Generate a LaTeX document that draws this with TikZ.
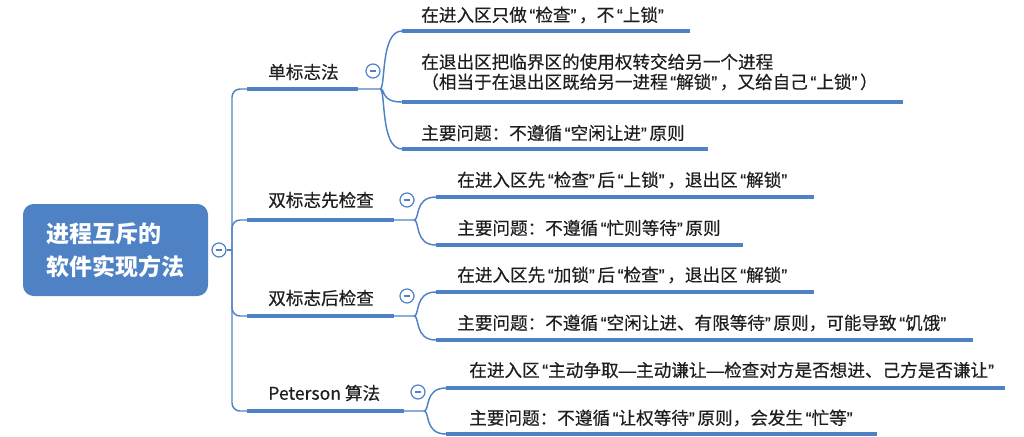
\documentclass[tikz,border=0pt]{standalone}
\usepackage{fontspec}
\setmainfont{Noto Sans CJK SC}
\newfontfamily\leaffont[FakeBold=0.4]{Noto Sans CJK SC}
\newfontfamily\quotefont[FakeBold=0.4]{Liberation Sans}
\newcommand\qo{\kern0.15em{\quotefont“}}
\newcommand\qc{{\quotefont”}\kern0.15em}
\newcommand\dsh{{\quotefont—}}
\definecolor{mapblue}{RGB}{79,130,197}
\definecolor{leafgray}{RGB}{30,30,30}
\begin{document}
\begin{tikzpicture}[x=0.75pt,y=-0.75pt,
    link/.style={draw=mapblue,line width=1.1pt},
    bar/.style={draw=mapblue,line width=2.6pt},
    fold/.style={circle,draw=mapblue,fill=white,line width=0.9pt,minimum size=10.5pt,inner sep=0pt,
      path picture={\draw[mapblue,line width=0.9pt] ([xshift=-2.6pt]path picture bounding box.center)--([xshift=2.6pt]path picture bounding box.center);}},
    txt/.style={anchor=west,inner sep=0pt,text=leafgray,align=left,font=\fontsize{13.2}{15}\leaffont},
    curl/.style={to path={.. controls +(6,0) and +(-22,0) .. (\tikztotarget)}}]
    \useasboundingbox (0,0) rectangle (1024,436);
    % root
    \node[fill=mapblue,rounded corners=8pt,minimum width=138.75pt,minimum height=69pt,text=white,align=left,
      font=\fontsize{17.25}{24.75}\selectfont\bfseries] (root) at (115.5,250) {进程互斥的\\软件实现方法};
    \node[fold] (rc) at (219,250) {};
    \coordinate (t) at (232,250);
    \draw[link] (rc) -- (t);

    % branches
    \coordinate (b1s) at (247,89);  \coordinate (b1e) at (358,89);  \coordinate (b1j) at (380,89);
    \coordinate (b2s) at (247,220); \coordinate (b2e) at (394,220); \coordinate (b2j) at (414,220);
    \coordinate (b3s) at (247,316); \coordinate (b3e) at (394,316); \coordinate (b3j) at (414,316);
    \coordinate (b4s) at (247,411); \coordinate (b4e) at (404,411); \coordinate (b4j) at (424,411);
    \draw[link,rounded corners=6pt] (t) |- (b1s) -- (b1j);
    \draw[link,rounded corners=6pt] (t) |- (b2s) -- (b2j);
    \draw[link,rounded corners=6pt] (t) |- (b3s) -- (b3j);
    \draw[link,rounded corners=6pt] (t) |- (b4s) -- (b4j);
    \node[txt] (b1) at (268,72) {单标志法};
    \node[txt] (b2) at (268,200) {双标志先检查};
    \node[txt] (b3) at (268,298) {双标志后检查};
    \node[txt] (b4) at (268,393) {Peterson 算法};
    \node[fold] (b1c) at (373,71) {};
    \node[fold] (b2c) at (407,200) {};
    \node[fold] (b3c) at (407,296) {};
    \node[fold] (b4c) at (418,392) {};

    % leaves
    \coordinate (l11s) at (402,31);  \coordinate (l11e) at (690,31);
    \coordinate (l12s) at (402,102); \coordinate (l12e) at (903,102);
    \coordinate (l13s) at (402,149); \coordinate (l13e) at (708,149);
    \coordinate (l21s) at (436,197); \coordinate (l21e) at (814,197);
    \coordinate (l22s) at (436,245); \coordinate (l22e) at (743,245);
    \coordinate (l31s) at (436,292); \coordinate (l31e) at (814,292);
    \coordinate (l32s) at (436,340); \coordinate (l32e) at (973,340);
    \coordinate (l41s) at (446,388); \coordinate (l41e) at (1005,388);
    \coordinate (l42s) at (446,434); \coordinate (l42e) at (877,434);
    \draw[link] (b1j) to[curl] (l11s) (b1j) to[curl] (l12s) (b1j) to[curl] (l13s);
    \draw[link] (b2j) to[curl] (l21s) (b2j) to[curl] (l22s);
    \draw[link] (b3j) to[curl] (l31s) (b3j) to[curl] (l32s);
    \draw[link] (b4j) to[curl] (l41s) (b4j) to[curl] (l42s);
    \draw[bar] (b1s) -- (b1e) (b2s) -- (b2e) (b3s) -- (b3e) (b4s) -- (b4e);
    \draw[bar] (l11s) -- (l11e) (l12s) -- (l12e) (l13s) -- (l13e);
    \draw[bar] (l21s) -- (l21e) (l22s) -- (l22e) (l31s) -- (l31e) (l32s) -- (l32e);
    \draw[bar] (l41s) -- (l41e) (l42s) -- (l42e);
    \node[txt] (l11) at (421,15) {在进入区只做\qo 检查\qc，不\qo 上锁\qc};
    \node[txt] (l12) at (421,72) {在退出区把临界区的使用权转交给另一个进程\\（相当于在退出区既给另一进程\qo 解锁\qc，又给自己\qo 上锁\qc）};
    \node[txt] (l13) at (421,133) {主要问题：不遵循\qo 空闲让进\qc 原则};
    \node[txt] (l21) at (457,180) {在进入区先\qo 检查\qc 后\qo 上锁\qc，退出区\qo 解锁\qc};
    \node[txt] (l22) at (457,228) {主要问题：不遵循\qo 忙则等待\qc 原则};
    \node[txt] (l31) at (457,275) {在进入区先\qo 加锁\qc 后\qo 检查\qc，退出区\qo 解锁\qc};
    \node[txt] (l32) at (457,323) {主要问题：不遵循\qo 空闲让进、有限等待\qc 原则，可能导致\qo 饥饿\qc};
    \node[txt] (l41) at (469,370) {在进入区\qo 主动争取\dsh 主动谦让\dsh 检查对方是否想进、己方是否谦让\qc};
    \node[txt] (l42) at (469,418) {主要问题：不遵循\qo 让权等待\qc 原则，会发生\qo 忙等\qc};
\end{tikzpicture}
\end{document}
